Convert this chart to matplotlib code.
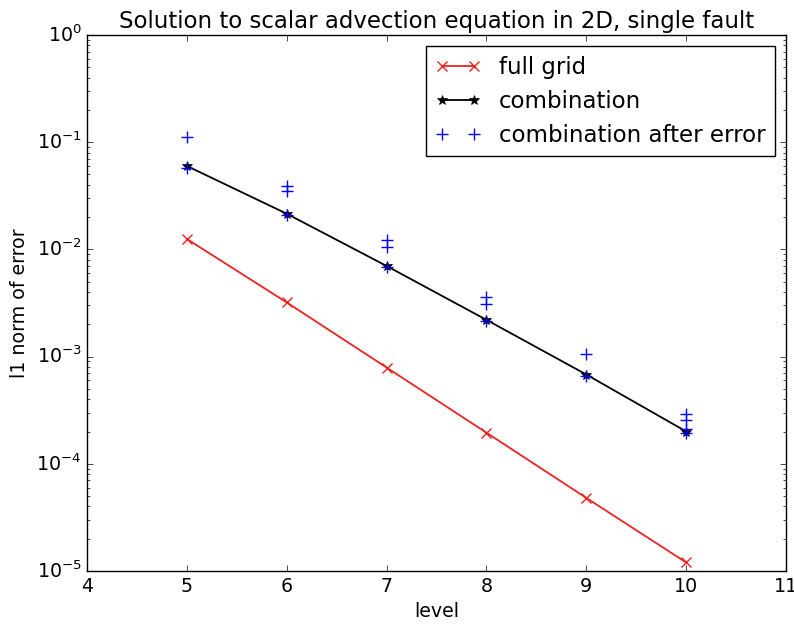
import matplotlib
matplotlib.use("Agg")
import matplotlib.pyplot as plt

plt.style.use("classic")
plt.rcParams["font.size"] = 13.7

levels = [5, 6, 7, 8, 9, 10]
full_grid = [1.25e-2, 3.2e-3, 7.9e-4, 1.95e-4, 4.8e-5, 1.2e-5]
combination = [6.0e-2, 2.15e-2, 7.0e-3, 2.2e-3, 6.8e-4, 2.0e-4]

# several runs per level after the fault
err_levels = [5, 5, 6, 6, 6, 7, 7, 7, 8, 8, 8, 9, 9, 10, 10, 10, 10]
err_values = [1.12e-1, 5.8e-2,
              3.9e-2, 3.5e-2, 2.1e-2,
              1.22e-2, 1.05e-2, 6.8e-3,
              3.6e-3, 3.1e-3, 2.15e-3,
              1.05e-3, 6.6e-4,
              2.9e-4, 2.55e-4, 2.1e-4, 1.95e-4]

fig = plt.figure(figsize=(7.94, 6.28), dpi=100)
ax = fig.add_axes([0.1096, 0.0908, 0.8804, 0.8535])

ax.semilogy(levels, full_grid, "x-", color="#ee2222", lw=1.3, ms=7, mew=1.0, label="full grid")
ax.semilogy(levels, combination, "k*-", lw=1.3, ms=7, label="combination")
ax.semilogy(err_levels, err_values, "b+", linestyle="none", ms=8, mew=1.0,
            label="combination after error")

ax.set_xlim(4, 11)
ax.set_ylim(1e-5, 1)
ax.set_xlabel("level")
ax.set_ylabel("l1 norm of error")
ax.set_title("Solution to scalar advection equation in 2D, single fault")
ax.legend(loc="upper right")

fig.savefig("out.png", dpi=100)
